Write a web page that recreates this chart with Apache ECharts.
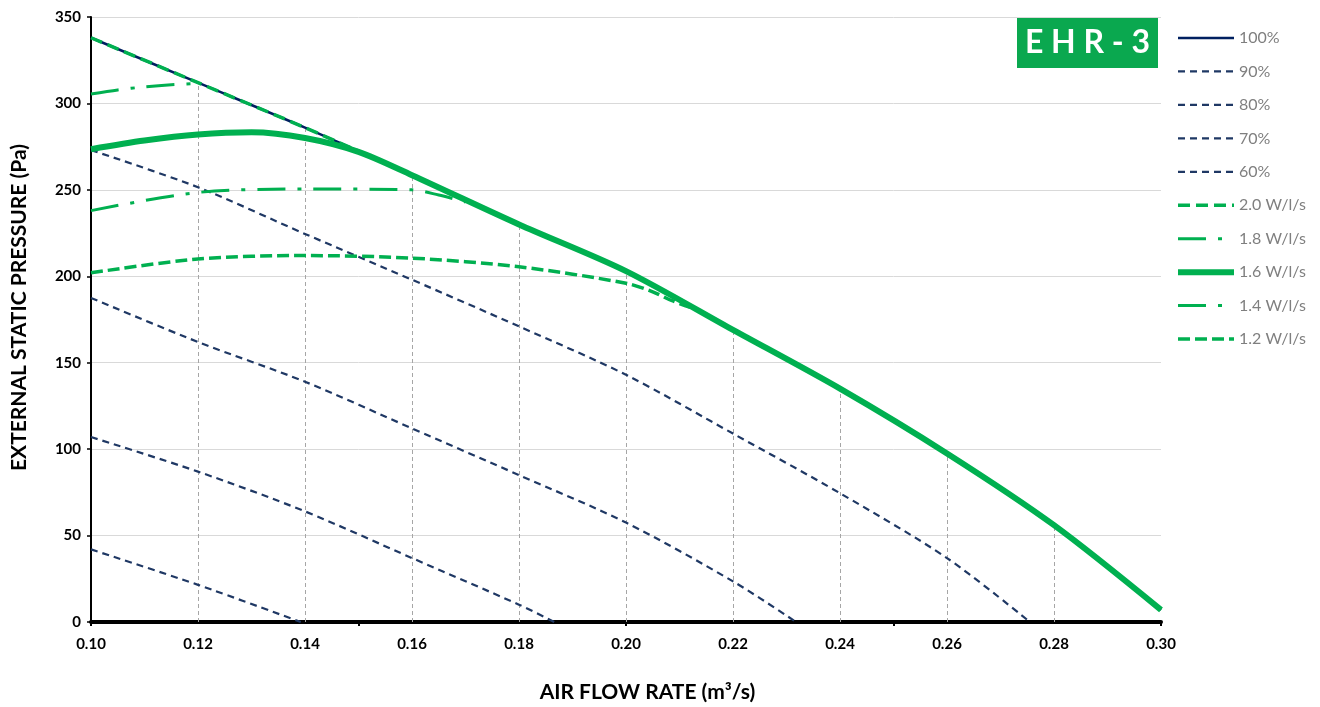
<!DOCTYPE html>
<html>
<head>
<meta charset="utf-8">
<script src="https://cdn.jsdelivr.net/npm/echarts@6/dist/echarts.min.js"></script>
<style>html,body{margin:0;padding:0;background:#fff}</style>
</head>
<body>
<div id="main" style="width:1320px;height:707px"></div>
<script>
// fan speed curves: [air flow rate m3/s, external static pressure Pa]
var fan100 = [[0.10,338],[0.12,312],[0.14,286],[0.16,258.5],[0.18,230],[0.20,203],[0.22,169],[0.24,135],[0.26,97.5],[0.28,56],[0.30,7]];
var fan90 = [[0.10,273],[0.12,251.5],[0.14,224.5],[0.16,198],[0.18,171],[0.20,143],[0.22,109],[0.24,74.5],[0.26,37],[0.2755,0]];
var fan80 = [[0.10,187.5],[0.12,162],[0.14,139],[0.16,112],[0.18,85],[0.20,57.5],[0.22,23.5],[0.2318,0]];
var fan70 = [[0.10,107],[0.12,87],[0.14,64],[0.16,37],[0.18,10],[0.1866,0]];
var fan60 = [[0.10,42],[0.12,21.5],[0.1392,0]];

// specific fan power curves
var sfp20 = [[0.10,338],[0.12,312],[0.14,286],[0.16,258.5],[0.18,230],[0.20,203],[0.22,169],[0.24,135],[0.26,97.5],[0.28,56],[0.30,7]];
var sfp18 = [[0.10,305.5],[0.105,307.8],[0.11,309.6],[0.115,310.8],[0.12,311.5]];
var sfp16 = [[0.10,273.5],[0.11,278.5],[0.12,282],[0.13,283.3],[0.14,280],[0.15,272],[0.16,258.5],[0.18,230],[0.20,203],[0.22,169],[0.24,135],[0.26,97.5],[0.28,56],[0.30,7]];
var sfp14 = [[0.10,238],[0.12,248.5],[0.14,250.5],[0.16,250],[0.165,247],[0.17,243]];
var sfp12 = [[0.10,202],[0.12,210],[0.14,212],[0.16,210.5],[0.18,205.5],[0.20,196],[0.205,191],[0.2085,186],[0.212,182]];

var legendNames = ['100%', '90%', '80%', '70%', '60%', '2.0 W/l/s', '1.8 W/l/s', '1.6 W/l/s', '1.4 W/l/s', '1.2 W/l/s'];

var navy = '#002060';
var navyDash = '#1f3864';
var green = '#00b050';
var font = 'Lato, "Open Sans", sans-serif';

// grey drop lines from the axis up to the 100% curve
var dropLines = fan100.slice(1, 10).map(function (p) {
    return [{ coord: [p[0], 0] }, { coord: [p[0], p[1]] }];
});

function line(name, data, color, width, type, extra) {
    var s = {
        name: name,
        type: 'line',
        data: data,
        smooth: 0.3,
        symbol: 'none',
        animation: false,
        lineStyle: { color: color, width: width, type: type },
        itemStyle: { color: color }
    };
    return Object.assign(s, extra || {});
}

var dashDot = [28, 12, 4, 12];

var option = {
    animation: false,
    grid: { left: 91, right: 159, top: 17, bottom: 85, outerBoundsMode: 'none' },
    legend: {
        data: legendNames,
        orient: 'vertical',
        left: 1170,
        top: 25,
        itemWidth: 56,
        itemHeight: 14,
        itemGap: 17.45,
        itemStyle: { opacity: 0, borderWidth: 0 },
        lineStyle: { width: 'inherit' },
        textStyle: { color: '#7f7f7f', fontSize: 16, fontFamily: font }
    },
    graphic: [{
        type: 'group',
        left: 1017,
        top: 17,
        children: [
            { type: 'rect', shape: { x: 0, y: 0, width: 141, height: 51 }, style: { fill: '#0aa84f' } },
            { type: 'text', x: 70.5, y: 26, style: { text: 'E H R - 3', fill: '#fff', font: 'bold 32px ' + font, align: 'center', verticalAlign: 'middle' } }
        ]
    }],
    xAxis: [{
        type: 'value',
        min: 0.10,
        max: 0.30,
        interval: 0.02,
        name: 'AIR FLOW RATE (m³/s)',
        nameLocation: 'middle',
        nameGap: 60,
        nameTextStyle: { fontSize: 21, fontWeight: 'bold', color: '#000', fontFamily: font, padding: [0, 0, 0, 43] },
        axisLine: { lineStyle: { color: '#000', width: 4 } },
        axisTick: { show: false },
        splitLine: { show: false },
        axisLabel: {
            margin: 15, fontSize: 15, fontWeight: 'bold', color: '#000', fontFamily: font,
            formatter: function (v) { return v.toFixed(2); }
        }
    }, {
        type: 'value',
        min: 0.10,
        max: 0.30,
        interval: 0.05,
        position: 'bottom',
        axisLine: { show: false },
        axisTick: { show: true, length: 4, lineStyle: { color: '#000', width: 2 } },
        axisLabel: { show: false },
        splitLine: { show: false }
    }],
    yAxis: {
        type: 'value',
        min: 0,
        max: 350,
        interval: 50,
        name: 'EXTERNAL STATIC PRESSURE (Pa)',
        nameLocation: 'middle',
        nameGap: 61,
        nameTextStyle: { fontSize: 21, fontWeight: 'bold', color: '#000', fontFamily: font, padding: [0, 0, 0, 24] },
        axisLine: { show: true, lineStyle: { color: '#000', width: 2 } },
        axisTick: { show: true, length: 4, lineStyle: { color: '#000', width: 1.5 } },
        splitLine: { lineStyle: { color: '#d9d9d9', width: 1 } },
        axisLabel: { margin: 10, fontSize: 15, fontWeight: 'bold', color: '#000', fontFamily: font }
    },
    series: [
        line('100%', fan100, navy, 2.5, 'solid', {
            markLine: {
                silent: true,
                z: 1,
                symbol: 'none',
                label: { show: false },
                animation: false,
                lineStyle: { color: '#a6a6a6', width: 1, type: [4, 3] },
                data: dropLines
            }
        }),
        line('90%', fan90, navyDash, 2.2, [7, 5]),
        line('80%', fan80, navyDash, 2.2, [7, 5]),
        line('70%', fan70, navyDash, 2.2, [7, 5]),
        line('60%', fan60, navyDash, 2.2, [7, 5]),
        line('2.0 W/l/s', sfp20, green, 3.5, [12, 6]),
        line('1.8 W/l/s', sfp18, green, 3, dashDot),
        line('1.6 W/l/s', sfp16, green, 6, 'solid'),
        line('1.4 W/l/s', sfp14, green, 3, dashDot),
        line('1.2 W/l/s', sfp12, green, 3.5, [12, 5])
    ]
};

var chart = echarts.init(document.getElementById('main'));
chart.setOption(option);
</script>
</body>
</html>
